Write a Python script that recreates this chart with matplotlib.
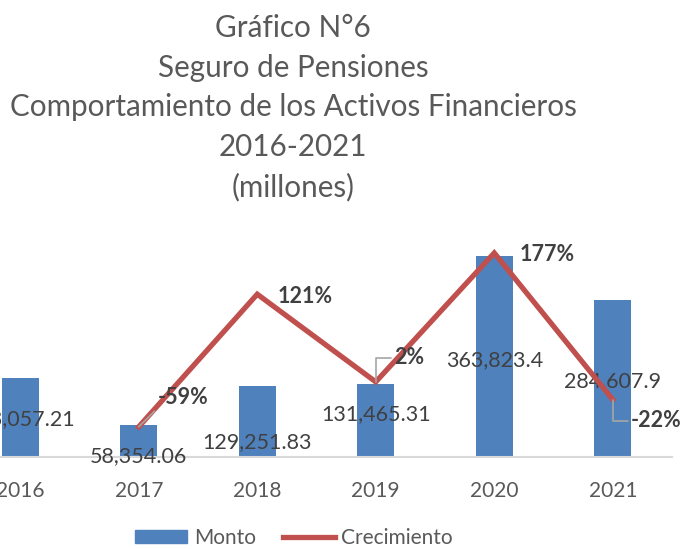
import matplotlib.pyplot as plt
from matplotlib.patches import Patch
from matplotlib.lines import Line2D

years = ["2016", "2017", "2018", "2019", "2020", "2021"]
monto = [143057.21, 58354.06, 129251.83, 131465.31, 363823.4, 284607.9]
monto_labels = ["143,057.21", "58,354.06", "129,251.83", "131,465.31", "363,823.4", "284,607.9"]
crec_years = ["2017", "2018", "2019", "2020", "2021"]
crecimiento = [-59, 121, 2, 177, -22]

bar_color = "#4F81BD"
line_color = "#C0504D"
text_grey = "#595959"
label_grey = "#404040"

plt.rcParams['font.family'] = ['Lato', 'DejaVu Sans']

fig = plt.figure(figsize=(6.85, 5.49), dpi=100)
ax = fig.add_axes([-39 / 685, 92 / 549, 711 / 685, 221 / 549])
ax2 = ax.twinx()

x = list(range(len(years)))
ax.bar(x, monto, width=0.31, color=bar_color, zorder=2)
ax.set_xlim(-0.5, len(years) - 0.5)
ax.set_ylim(0, 400000)
ax2.set_ylim(-100, 200)

cx = [years.index(y) for y in crec_years]
ax2.plot(cx, crecimiento, color=line_color, lw=3.8, solid_joinstyle='miter', zorder=3)

# value labels for bars (offset in pixels from bar top)
val_offsets = [(0, -41), (0, -31), (0, -57), (0, -30), (0, -104), (0, -81)]
for i, (v, lab) in enumerate(zip(monto, monto_labels)):
    ax.annotate(lab, (x[i], v), xytext=val_offsets[i], textcoords='offset pixels',
                ha='center', va='center', fontsize=15.5, color=label_grey)

# growth labels
pct_offsets = [(44, 29), (48, -2), (33, 24), (53, -2), (43, -21)]
leader = [True, False, True, False, True]
for i, (c, p) in enumerate(zip(cx, crecimiento)):
    props = None
    if leader[i]:
        if i == 0:
            props = dict(arrowstyle='-', color='#a6a6a6', lw=1.2, shrinkA=0, shrinkB=0,
                         relpos=(0.0, 0.0))
        else:
            props = dict(arrowstyle='-', color='#a6a6a6', lw=1.2, shrinkA=0, shrinkB=0,
                         relpos=(0.0, 0.5),
                         connectionstyle="angle,angleA=0,angleB=90,rad=0")
    ax2.annotate(f"{p}%", (c, p), xytext=pct_offsets[i], textcoords='offset pixels',
                 ha='center', va='center', fontsize=15.5, fontweight='bold',
                 color=label_grey, arrowprops=props, zorder=4)

ax.set_xticks(x)
ax.set_xticklabels(years, fontsize=15, color=text_grey)
ax.tick_params(axis='x', length=0, pad=17)
ax.set_yticks([])
ax2.set_yticks([])
for s in ['top', 'left', 'right']:
    ax.spines[s].set_visible(False)
    ax2.spines[s].set_visible(False)
ax2.spines['bottom'].set_visible(False)
ax.spines['bottom'].set_color('#d9d9d9')
ax.spines['bottom'].set_linewidth(1.5)

title = "Gráfico N°6\nSeguro de Pensiones\nComportamiento de los Activos Financieros\n2016-2021\n(millones)"
fig.text(293 / 685, 1 - 108 / 549, title, ha='center', va='center', fontsize=21.3,
         color=text_grey, linespacing=1.5)

handles = [Patch(color=bar_color), Line2D([0], [0], color=line_color, lw=3.8)]
fig.legend(handles, ["Monto", "Crecimiento"], loc='center', ncol=2,
           bbox_to_anchor=(294 / 685, 1 - 538 / 549), frameon=False, fontsize=15,
           labelcolor=text_grey, handlelength=2.5, handleheight=0.62,
           handletextpad=0.3, columnspacing=1.3, borderpad=0.2)

fig.savefig("out.png", dpi=100)
